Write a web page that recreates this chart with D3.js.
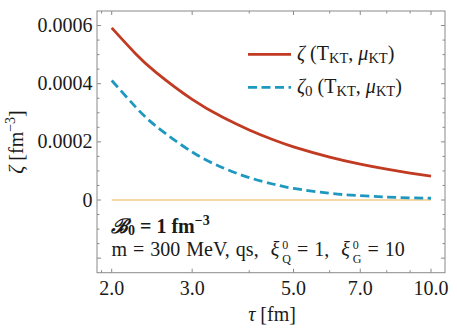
<!DOCTYPE html>
<html>
<head>
<meta charset="utf-8">
<script src="https://cdn.jsdelivr.net/npm/d3@7"></script>
<style>
  body { margin: 0; background: #fff; }
  svg text { font-family: "Liberation Serif", "Times New Roman", serif; white-space: pre; }
</style>
</head>
<body>
<svg width="457" height="330"></svg>
<script>
// data (zeta in fm^-3)
const tau = [2, 2.25, 2.5, 3, 3.5, 4, 4.5, 5, 6, 7, 8, 9, 10];
const zeta = [0.000592, 0.000505, 0.000439, 0.000346, 0.0002845, 0.000241, 0.000208, 0.000183, 0.0001476, 0.0001234, 0.0001059, 0.0000926, 0.0000822];
const zeta0 = [0.000411, 0.000322, 0.000254, 0.000165, 0.000111, 0.000077, 0.000055, 0.000040, 0.000023, 0.000015, 0.000010, 0.0000075, 0.000006];
const zeroLine = [0, 0];
const zeroTau = [2, 10];
const xTicks = [2, 3, 5, 7, 10];
const xMinor = [1.9, 4, 6, 8, 9];
const yTicks = [0, 0.0002, 0.0004, 0.0006];

const svg = d3.select("svg");
const fLeft = 97, fRight = 445, fTop = 11, fBottom = 272.7;

const x = d3.scaleLog().domain([1.857, 10.73]).range([fLeft, fRight]);
const y = d3.scaleLinear().domain([-0.00025, 0.00065]).range([fBottom, fTop]);

const frameColor = "#8a8a8a";
const ink = "#1a1a1a";
const fs = 20;

// frame
svg.append("rect")
  .attr("x", fLeft).attr("y", fTop)
  .attr("width", fRight - fLeft).attr("height", fBottom - fTop)
  .attr("fill", "none").attr("stroke", frameColor).attr("stroke-width", 1);

// x ticks (bottom and top, pointing inside)
const ticks = svg.append("g").attr("stroke", frameColor).attr("stroke-width", 1);
xTicks.concat(xMinor).forEach((t) => {
  const len = xTicks.includes(t) ? 4 : 2.5;
  ticks.append("line").attr("x1", x(t)).attr("x2", x(t)).attr("y1", fBottom).attr("y2", fBottom - len);
  ticks.append("line").attr("x1", x(t)).attr("x2", x(t)).attr("y1", fTop).attr("y2", fTop + len);
});

// y ticks, minor every 0.00005
for (let k = -4; k <= 12; k++) {
  const v = k * 0.00005;
  const major = k % 4 === 0;
  const len = major ? 4 : 2.5;
  ticks.append("line").attr("x1", fLeft).attr("x2", fLeft + len).attr("y1", y(v)).attr("y2", y(v));
  ticks.append("line").attr("x1", fRight).attr("x2", fRight - len).attr("y1", y(v)).attr("y2", y(v));
}

// tick labels
svg.append("g").selectAll("text").data(xTicks).enter().append("text")
  .attr("x", (d) => x(d)).attr("y", 295)
  .attr("text-anchor", "middle").attr("font-size", fs).attr("fill", ink)
  .text((d) => d3.format(".1f")(d));

svg.append("g").selectAll("text").data(yTicks).enter().append("text")
  .attr("x", 92.5).attr("y", (d) => y(d) + 6.5)
  .attr("text-anchor", "end").attr("font-size", fs).attr("fill", ink)
  .text((d) => (d === 0 ? "0" : d3.format(".4f")(d)));

// axis titles
const yt = svg.append("text")
  .attr("transform", "translate(23,142) rotate(-90)")
  .attr("text-anchor", "middle").attr("font-size", fs).attr("fill", ink);
yt.append("tspan").attr("font-style", "italic").text("ζ");
yt.append("tspan").text(" [fm");
yt.append("tspan").attr("font-size", 14).attr("dy", -8).text("−3");
yt.append("tspan").attr("dy", 8).text("]");

const xt = svg.append("text")
  .attr("x", 272).attr("y", 321)
  .attr("text-anchor", "middle").attr("font-size", fs).attr("fill", ink);
xt.append("tspan").attr("font-style", "italic").text("τ");
xt.append("tspan").text(" [fm]");

// curves
const line = d3.line().x((d) => x(d[0])).y((d) => y(d[1])).curve(d3.curveNatural);

svg.append("path")
  .datum(zeroTau.map((t, i) => [t, zeroLine[i]]))
  .attr("d", line).attr("fill", "none")
  .attr("stroke", "#f6d8a6").attr("stroke-width", 1.8);

svg.append("path")
  .datum(tau.map((t, i) => [t, zeta0[i]]))
  .attr("d", line).attr("fill", "none")
  .attr("stroke", "#1f98c0").attr("stroke-width", 2.8)
  .attr("stroke-dasharray", "9,4.5");

svg.append("path")
  .datum(tau.map((t, i) => [t, zeta[i]]))
  .attr("d", line).attr("fill", "none")
  .attr("stroke", "#c13a22").attr("stroke-width", 2.8);

// legend
const legend = [
  { color: "#c13a22", dash: null, sub: "", y: 54.3 },
  { color: "#1f98c0", dash: "9,4.5", sub: "0", y: 87.3 },
];
legend.forEach((l) => {
  svg.append("line")
    .attr("x1", 248).attr("x2", 291).attr("y1", l.y).attr("y2", l.y)
    .attr("stroke", l.color).attr("stroke-width", 2.8)
    .attr("stroke-dasharray", l.dash);
  const t = svg.append("text")
    .attr("x", 297).attr("y", l.y + 6)
    .attr("font-size", fs).attr("fill", ink);
  t.append("tspan").attr("font-style", "italic").text("ζ");
  if (l.sub) t.append("tspan").attr("font-size", 15).attr("dy", 3).text(l.sub);
  t.append("tspan").attr("dy", l.sub ? -3 : 0).text(" (T");
  t.append("tspan").attr("font-size", 14.5).attr("dy", 3).text("KT");
  t.append("tspan").attr("dy", -3).text(", ");
  t.append("tspan").attr("font-style", "italic").text("μ");
  t.append("tspan").attr("font-size", 14.5).attr("dy", 3).text("KT");
  t.append("tspan").attr("dy", -3).text(")");
});

// annotation
const a1 = svg.append("text")
  .attr("x", 111).attr("y", 233)
  .attr("font-size", fs).attr("font-weight", "bold").attr("fill", ink);
a1.append("tspan").attr("font-style", "italic").text("ℬ");
a1.append("tspan").attr("font-size", 14).attr("dy", 2).text("0");
a1.append("tspan").attr("dy", -2).text(" = 1 fm");
a1.append("tspan").attr("font-size", 14).attr("dy", -8).text("−3");

// second line: pieces placed one after another, with stacked super/subscripts
const baseY = 255.5;
let cx = 111.5;
function piece(str, opts = {}) {
  const t = svg.append("text")
    .attr("x", cx).attr("y", baseY + (opts.dy || 0))
    .attr("font-size", opts.size || fs).attr("fill", ink)
    .attr("font-style", opts.italic ? "italic" : null)
    .attr("word-spacing", 1)
    .text(str);
  const w = t.node().getComputedTextLength();
  if (!opts.stay) cx += w;
  return w;
}
piece("m = 300 MeV, qs,  ");
piece("ξ", { italic: true });
cx += 3;
piece("0", { size: 12, dy: -7, stay: true });
piece("Q", { size: 12, dy: 7 });
piece(" = 1,  ");
piece("ξ", { italic: true });
cx += 3;
piece("0", { size: 12, dy: -7, stay: true });
piece("G", { size: 12, dy: 7 });
piece(" = 10");
</script>
</body>
</html>
